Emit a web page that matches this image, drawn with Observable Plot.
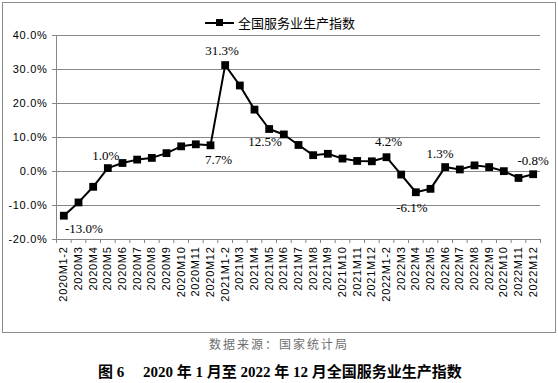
<!DOCTYPE html>
<html><head><meta charset="utf-8">
<script src="https://cdn.jsdelivr.net/npm/d3@7"></script>
<script src="https://cdn.jsdelivr.net/npm/@observablehq/plot@0.6"></script>
<style>
body{margin:0;background:#fff;width:558px;height:383px;position:relative;overflow:hidden;font-family:"Liberation Sans",sans-serif}
#frame{position:absolute;left:2px;top:2px;width:554px;height:331px;border:1px solid #8c8c8c;box-sizing:border-box;pointer-events:none}
#chart{position:absolute;left:0;top:0}
#chart svg{overflow:visible}
#chart g[aria-label="y-axis tick label"] text,#chart g[aria-label="x-axis tick label"] text{letter-spacing:0.7px}
#legend{position:absolute;top:13px;left:205px;display:flex;align-items:center;font:13px "Noto Sans CJK SC",sans-serif;color:#000;white-space:nowrap}
#legend .sw{position:relative;width:29px;height:18px;margin-right:4px}
#legend .sw .ln{position:absolute;left:0;right:0;top:8px;height:2px;background:#000}
#legend .sw .sq{position:absolute;left:11px;top:5.5px;width:7px;height:7px;background:#000}
#source{position:absolute;top:335px;left:0;width:558px;text-align:center;font:12px "Noto Sans CJK SC",sans-serif;color:#6e6e6e;letter-spacing:2px}
#title{position:absolute;top:360px;left:0;width:560px;text-align:center;font:bold 15px "Liberation Serif","Noto Sans CJK SC",serif;color:#000;white-space:pre}
</style></head>
<body>
<div id="chart"></div>
<div id="frame"></div>
<div id="legend"><div class="sw"><div class="ln"></div><div class="sq"></div></div><span>全国服务业生产指数</span></div>
<div id="source">数据来源：国家统计局</div>
<div id="title">图 6　 2020 年 1 月至 2022 年 12 月全国服务业生产指数</div>
<script>
const categories = [
  "2020M1-2","2020M3","2020M4","2020M5","2020M6","2020M7","2020M8","2020M9","2020M10","2020M11","2020M12",
  "2021M1-2","2021M3","2021M4","2021M5","2021M6","2021M7","2021M8","2021M9","2021M10","2021M11","2021M12",
  "2022M1-2","2022M3","2022M4","2022M5","2022M6","2022M7","2022M8","2022M9","2022M10","2022M11","2022M12"
];
const values = [
  -13.0,-9.1,-4.5,1.0,2.5,3.5,4.0,5.4,7.4,8.0,7.7,
  31.3,25.3,18.2,12.5,10.9,7.8,4.8,5.2,3.8,3.1,3.0,
  4.2,-0.9,-6.1,-5.1,1.3,0.6,1.8,1.3,0.1,-1.9,-0.8
];
const yTicks = [-20,-10,0,10,20,30,40];
const labelCats = ["2020M1-2","2020M5","2020M12","2021M1-2","2021M5","2022M1-2","2022M4","2022M6","2022M12"];

const data = categories.map((c,i)=>({i, c, v: values[i]}));
const xpos = d => d.i + 0.5;
const labelOffsets = {
  "2020M1-2":[20,13],"2020M5":[-2,-12],"2020M12":[8,15],"2021M1-2":[-3,-14],
  "2021M5":[-4,13],"2022M1-2":[2,-15],"2022M4":[-4,16],"2022M6":[-5,-13],"2022M12":[0,-13]
};
const grid = "#878787";

const labelMarks = labelCats.map(c => {
  const [dx,dy] = labelOffsets[c];
  return Plot.text(data.filter(d=>d.c===c), {
    x: xpos, y: "v", text: d => d.v.toFixed(1)+"%", dx, dy,
    fontSize: 13, fontFamily: "Liberation Serif", fill: "#000"
  });
});

const chart = Plot.plot({
  width: 558, height: 333,
  marginLeft: 56, marginRight: 18, marginTop: 35, marginBottom: 94,
  style: {fontFamily: "Liberation Sans", fontSize: "11px", color: "#000", background: "transparent"},
  x: {type: "linear", domain: [0, categories.length], axis: null},
  y: {domain: [-20, 40], axis: null},
  marks: [
    Plot.gridY(yTicks, {stroke: grid, strokeOpacity: 1, strokeWidth: 1}),
    Plot.ruleX([0], {stroke: grid}),
    Plot.axisY(yTicks, {tickFormat: d => d.toFixed(1)+"%", tickSize: 4, tickPadding: 5, stroke: grid, fill: "#000", fontSize: 11, label: null}),
    Plot.axisX(d3.range(categories.length+1), {tickFormat: () => "", tickSize: 4, stroke: grid, label: null}),
    Plot.axisX(d3.range(categories.length).map(i=>i+0.5), {tickFormat: d => categories[Math.round(d-0.5)], tickSize: 0, tickPadding: 7, tickRotate: -90, fill: "#000", fontSize: 11, label: null}),
    Plot.line(data, {x: xpos, y: "v", stroke: "#000", strokeWidth: 2}),
    Plot.dot(data, {x: xpos, y: "v", symbol: "square", r: 4.4, fill: "#000", stroke: "none"}),
    ...labelMarks
  ]
});
document.getElementById("chart").appendChild(chart);
</script>
</body></html>
